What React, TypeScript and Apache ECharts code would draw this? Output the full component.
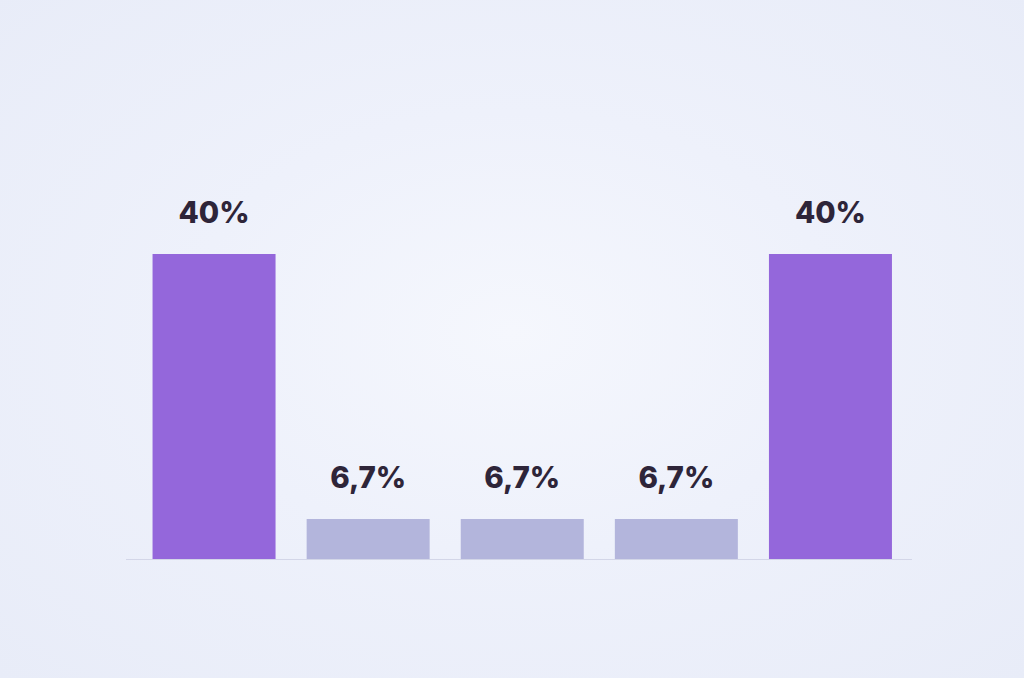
import React, { useEffect, useRef } from "react";
import * as echarts from "echarts";

const categories = ["A", "B", "C", "D", "E"];
const values = [40, 6.7, 6.7, 6.7, 40];
const barColors = ["#9467db", "#b3b5dc", "#b3b5dc", "#b3b5dc", "#9467db"];

export default function App() {
  const ref = useRef<HTMLDivElement>(null);
  useEffect(() => {
    document.body.style.margin = "0";
    const chart = echarts.init(ref.current!, null, { renderer: "svg" });
    chart.setOption({
      animation: false,
      backgroundColor: "transparent",
      grid: { left: 137, right: 1024 - 907.5, top: 254, bottom: 119, containLabel: false },
      xAxis: {
        type: "category",
        data: categories,
        axisLine: { show: false },
        axisTick: { show: false },
        axisLabel: { show: false },
      },
      yAxis: {
        type: "value",
        min: 1.67,
        max: 40,
        show: false,
        splitLine: { show: false },
      },
      graphic: [
        {
          type: "line",
          shape: { x1: 126, y1: 559.5, x2: 912, y2: 559.5 },
          style: { stroke: "#d3d6e8", lineWidth: 1 },
          z: 0,
        },
      ],
      series: [
        {
          type: "bar",
          clip: true,
          barWidth: 123,
          data: values.map((v, i) => ({ value: v, itemStyle: { color: barColors[i] } })),
          label: {
            show: true,
            position: "top",
            distance: 27,
            formatter: (p: any) => String(p.value).replace(".", ",") + "%",
            fontFamily: "Inter",
            fontWeight: 800,
            fontSize: 29.5,
            color: "#2e2539",
          },
        },
      ],
    });
    return () => chart.dispose();
  }, []);
  return (
    <div
      style={{
        position: "absolute",
        left: 0,
        top: 0,
        width: 1024,
        height: 678,
        background: "radial-gradient(ellipse at 50% 49%, #f5f7fd 0%, #eef1fb 45%, #e8ecf8 100%)",
      }}
    >
      <div ref={ref} style={{ width: 1024, height: 678 }} />
    </div>
  );
}
